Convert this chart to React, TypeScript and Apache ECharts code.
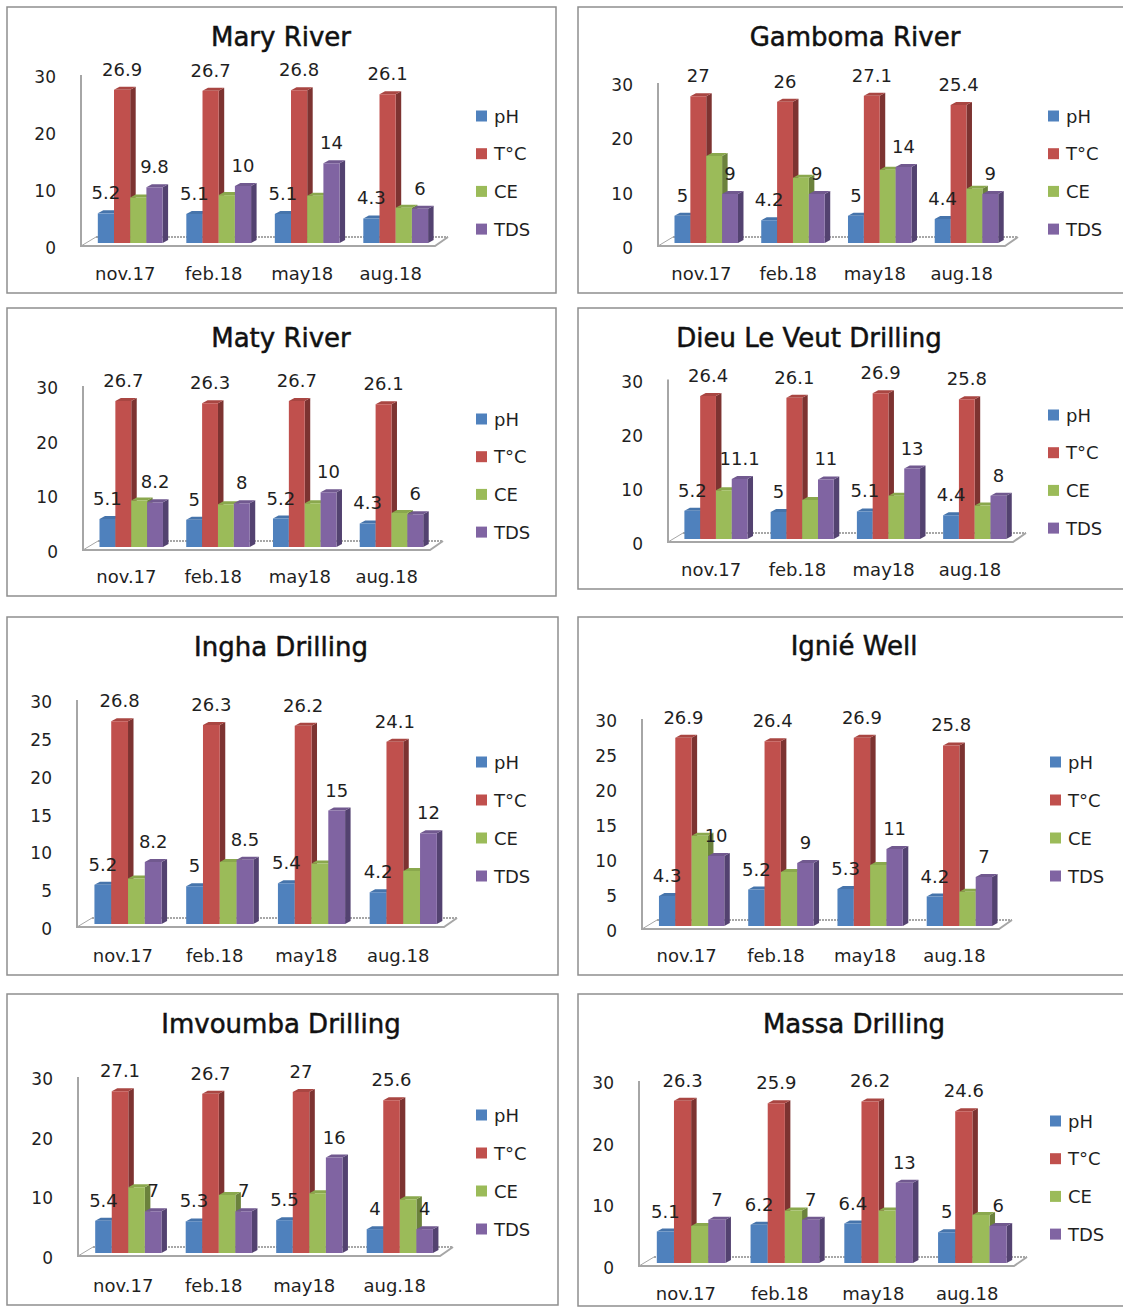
import React, { useEffect, useRef } from "react";
import * as echarts from "echarts";

const categories = ["nov.17", "feb.18", "may18", "aug.18"];
const seriesNames = ["pH", "T°C", "CE", "TDS"];
const chartTitles = ["Mary River", "Gamboma River", "Maty River", "Dieu Le Veut Drilling", "Ingha Drilling", "Ignié Well", "Imvoumba Drilling", "Massa Drilling"];

const phValues = [
  [5.2, 5.1, 5.1, 4.3], [5, 4.2, 5, 4.4], [5.1, 5, 5.2, 4.3], [5.2, 5, 5.1, 4.4],
  [5.2, 5, 5.4, 4.2], [4.3, 5.2, 5.3, 4.2], [5.4, 5.3, 5.5, 4], [5.1, 6.2, 6.4, 5],
];
const tempValues = [
  [26.9, 26.7, 26.8, 26.1], [27, 26, 27.1, 25.4], [26.7, 26.3, 26.7, 26.1], [26.4, 26.1, 26.9, 25.8],
  [26.8, 26.3, 26.2, 24.1], [26.9, 26.4, 26.9, 25.8], [27.1, 26.7, 27, 25.6], [26.3, 25.9, 26.2, 24.6],
];
const ceValues = [
  [8, 8.4, 8.3, 6.2], [16, 12, 13.5, 10], [8.5, 7.8, 8, 6.2], [9, 7.2, 8, 6.2],
  [6, 8.2, 8, 7], [12.9, 7.7, 8.7, 4.9], [11, 9.7, 10, 9], [6, 8.5, 8.5, 7.8],
];
const tdsValues = [
  [9.8, 10, 14, 6], [9, 9, 14, 9], [8.2, 8, 10, 6], [11.1, 11, 13, 8],
  [8.2, 8.5, 15, 12], [10, 9, 11, 7], [7, 7, 16, 4], [7, 7, 13, 6],
];
const allValues = [phValues, tempValues, ceValues, tdsValues];
const tickSteps = [10, 10, 10, 10, 5, 5, 10, 10];

// layout: box, plot area, title and legend placement of each panel
const layouts = [
  { box: [7, 7, 549, 286], left: 81, top: 72, base: 243, w: 354, tx: 276, ty: 32, lx: 476, ly: 115, gap: 37.7, cat: 273 },
  { box: [578, 7, 600, 286], left: 658, top: 80, base: 243, w: 347, tx: 850, ty: 32, lx: 1048, ly: 115, gap: 37.7, cat: 273 },
  { box: [7, 308, 549, 288], left: 83, top: 383, base: 547, w: 347, tx: 276, ty: 333, lx: 476, ly: 418, gap: 37.7, cat: 576 },
  { box: [578, 308, 600, 281], left: 668, top: 376.5, base: 539, w: 345, tx: 804, ty: 333, lx: 1048, ly: 414, gap: 37.7, cat: 569 },
  { box: [7, 617, 551, 358], left: 77, top: 697, base: 924, w: 367, tx: 276, ty: 642, lx: 476, ly: 761, gap: 38, cat: 955 },
  { box: [578, 617, 600, 358], left: 642, top: 716, base: 926, w: 357, tx: 849, ty: 641, lx: 1050, ly: 761, gap: 38, cat: 955 },
  { box: [7, 994, 551, 311], left: 78, top: 1074, base: 1253, w: 362, tx: 276, ty: 1019, lx: 476, ly: 1114, gap: 38, cat: 1285 },
  { box: [578, 994, 600, 312], left: 639, top: 1078, base: 1263, w: 375, tx: 849, ty: 1019, lx: 1050, ly: 1120, gap: 37.7, cat: 1293 },
];

const FRONT = ["#4f81bd", "#c0504d", "#9bbb59", "#8064a2"];
const TOP = ["#4674ab", "#a94642", "#8aa84d", "#71598f"];
const SIDE = ["#375a85", "#7d3331", "#6b823c", "#534270"];
const FONT = "DejaVu Sans";
const TEXT = "#1f1f1f";
const DX = 5.5;
const DY = 3;

function barItem(si: number) {
  return (params: any, api: any) => {
    const i = api.value(0);
    const v = api.value(1);
    const top = api.coord([i, v]);
    const zero = api.coord([i, 0]);
    const band = api.size([1, 0])[0];
    const bw = band * 0.183;
    const x0 = top[0] - band / 2 + band * 0.19 + si * bw;
    const x1 = x0 + bw;
    const yt = top[1];
    const yb = zero[1];
    const children: any[] = [
      { type: "polygon", shape: { points: [[x1, yb], [x1 + DX, yb - DY], [x1 + DX, yt - DY], [x1, yt]] }, style: { fill: SIDE[si] } },
      { type: "polygon", shape: { points: [[x0, yt], [x0 + DX, yt - DY], [x1 + DX, yt - DY], [x1, yt]] }, style: { fill: TOP[si] } },
      { type: "rect", shape: { x: x0, y: yt, width: bw, height: yb - yt }, style: { fill: FRONT[si] } },
    ];
    if (si !== 2) {
      children.push({
        type: "text",
        z2: 100,
        style: {
          x: x0 + bw / 2,
          y: yt - 20.5,
          text: String(v),
          align: "center",
          verticalAlign: "middle",
          fill: TEXT,
          font: `18px "${FONT}"`,
        },
      });
    }
    return { type: "group", children };
  };
}

function floorItem(params: any) {
  const c = params.coordSys;
  const b = c.y + c.height;
  const frontY = b + 3;
  const backY = b - 6;
  const x = c.x;
  const xr = c.x + c.width;
  return {
    type: "group",
    children: [
      { type: "polygon", shape: { points: [[x, frontY], [xr, frontY], [xr + 13, backY], [x + 15, backY]] }, style: { fill: "#ffffff" } },
      { type: "polyline", shape: { points: [[x + 15, backY], [xr + 13, backY]] }, style: { fill: "none", stroke: "#8a8a8a", lineWidth: 1.5, lineDash: [2, 1] } },
      { type: "polyline", shape: { points: [[x, c.y + 3], [x, frontY], [xr, frontY], [xr + 13, backY]] }, style: { fill: "none", stroke: "#a6a6a6", lineWidth: 2 } },
      { type: "line", shape: { x1: x, y1: frontY, x2: x + 15, y2: backY }, style: { stroke: "#a6a6a6", lineWidth: 1 } },
    ],
  };
}

function buildOption() {
  const grid: any[] = [];
  const xAxis: any[] = [];
  const yAxis: any[] = [];
  const title: any[] = [];
  const legend: any[] = [];
  const series: any[] = [];
  const graphic: any[] = [];
  layouts.forEach((p, k) => {
    graphic.push({
      type: "rect",
      silent: true,
      z: -1,
      shape: { x: p.box[0], y: p.box[1], width: p.box[2], height: p.box[3] },
      style: { fill: "#ffffff", stroke: "#8f8f8f", lineWidth: 1.5 },
    });
    grid.push({ left: p.left, top: p.top, width: p.w, height: p.base - p.top, containLabel: false });
    xAxis.push({
      type: "category",
      gridIndex: k,
      data: categories,
      axisLine: { show: false },
      axisTick: { show: false },
      axisLabel: { margin: p.cat - p.base - 9, fontFamily: FONT, fontSize: 18, color: TEXT, interval: 0 },
    });
    yAxis.push({
      type: "value",
      gridIndex: k,
      min: 0,
      max: 30,
      interval: tickSteps[k],
      splitLine: { show: false },
      axisLine: { show: false },
      axisTick: { show: false },
      axisLabel: { margin: 25, verticalAlign: "top", lineHeight: 10, fontFamily: FONT, fontSize: 17, color: TEXT },
    });
    title.push({
      text: chartTitles[k],
      left: p.tx,
      top: p.ty,
      textAlign: "center",
      textVerticalAlign: "middle",
      textStyle: { fontFamily: FONT, fontSize: 26, fontWeight: "normal", color: "#111111", textBorderColor: "#111111", textBorderWidth: 0.5 },
    });
    legend.push({
      data: seriesNames,
      orient: "vertical",
      left: p.lx,
      top: p.ly - 8,
      padding: 0,
      itemWidth: 11,
      itemHeight: 11,
      itemGap: p.gap - 18,
      icon: "rect",
      selectedMode: false,
      textStyle: { fontFamily: FONT, fontSize: 18, color: TEXT, lineHeight: 16, padding: [0, 0, 0, 2] },
    });
    series.push({
      type: "custom",
      name: "floor" + k,
      xAxisIndex: k,
      yAxisIndex: k,
      data: [[0, 0]],
      z: 1,
      silent: true,
      renderItem: floorItem,
    });
    seriesNames.forEach((name, si) => {
      series.push({
        type: "custom",
        name,
        xAxisIndex: k,
        yAxisIndex: k,
        z: 2,
        itemStyle: { color: FRONT[si] },
        encode: { x: 0, y: 1 },
        data: allValues[si][k].map((v, i) => [i, v]),
        renderItem: barItem(si),
      });
    });
  });
  return { animation: false, backgroundColor: "#ffffff", grid, xAxis, yAxis, title, legend, series, graphic };
}

export default function App() {
  const ref = useRef<HTMLDivElement>(null);
  useEffect(() => {
    document.body.style.margin = "0";
    const chart = echarts.init(ref.current!, undefined, { renderer: "svg" });
    chart.setOption(buildOption() as any);
    return () => chart.dispose();
  }, []);
  return <div ref={ref} style={{ width: 1123, height: 1307 }} />;
}
